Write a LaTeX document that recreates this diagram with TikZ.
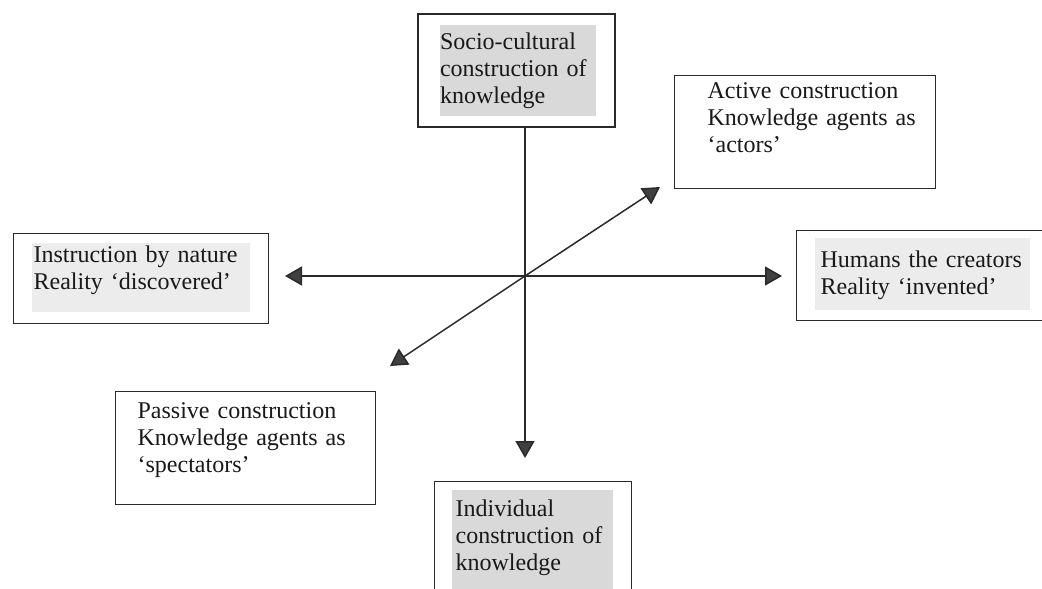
\documentclass[tikz,border=0pt]{standalone}
\usepackage{fontspec}
\setmainfont{Liberation Serif}
\usetikzlibrary{arrows.meta}
\hyphenpenalty=10000
\exhyphenpenalty=10000
\definecolor{linec}{HTML}{2A2A2A}
\definecolor{headc}{HTML}{404040}
\definecolor{hl}{HTML}{D9D9D9}
\definecolor{hlight}{HTML}{ECECEC}
\tikzset{
  box/.style={draw=linec, line width=1.3pt, rectangle, inner xsep=0pt, inner ysep=0pt, align=left,
    font=\fontsize{24}{27}\selectfont, text=black!90},
  conn/.style={draw=linec, line width=1.5pt, -{Triangle[length=17pt,width=19pt,fill=headc]}},
}
\begin{document}
\begin{tikzpicture}[x=1pt,y=1pt]
\useasboundingbox[fill=white] (0,0) rectangle (1042,-589);
% faint highlights behind text
\fill[hl] (440,-25) rectangle (596,-116);
\fill[hl] (452,-490) rectangle (613,-589);
\fill[hlight] (32,-243) rectangle (250,-312);
\fill[hlight] (815,-238) rectangle (1030,-310);
% boxes
\node[box, minimum width=197pt, minimum height=113pt, text width=153pt] (soc) at (516.5,-70.5) {Socio-cultural\\construction of\\knowledge};
\node[box, minimum width=261pt, minimum height=113pt, text width=237pt, anchor=north west] (act) at (674,-75) {\hspace*{21pt}Active construction\\\hspace*{21pt}Knowledge agents as\\\hspace*{21pt}`actors'\\[-6pt]\strut};
\node[box, minimum width=255pt, minimum height=90pt, text width=215pt, anchor=north west] (ins) at (13,-233) {Instruction by nature\\Reality `discovered'\\[-13pt]\strut};
\node[box, minimum width=250pt, minimum height=90pt, text width=220pt, anchor=north west] (hum) at (796,-230) {\hspace*{9pt}Humans the creators\\\hspace*{9pt}Reality `invented'};
\node[box, minimum width=260pt, minimum height=113pt, text width=216pt, anchor=north west] (pas) at (115,-391) {Passive construction\\Knowledge agents as\\`spectators'\\[-14pt]\strut};
\node[box, minimum width=197pt, minimum height=113pt, text width=155pt, anchor=north west] (ind) at (434,-481) {Individual\\construction of\\knowledge};
% connectors
\coordinate (c) at (525,-276);
\coordinate (tl) at (285,-276);
\coordinate (tr) at (782,-276);
\coordinate (tur) at (660,-187);
\coordinate (tdl) at (390,-366);
\coordinate (tdown) at (525,-458);
\draw[draw=linec, line width=1.5pt] (soc.south -| c) -- (c);
\draw[conn] (c) -- (tdown);
\draw[conn] (c) -- (tl);
\draw[conn] (c) -- (tr);
\draw[conn] (c) -- (tur);
\draw[conn] (c) -- (tdl);
\end{tikzpicture}
\end{document}
